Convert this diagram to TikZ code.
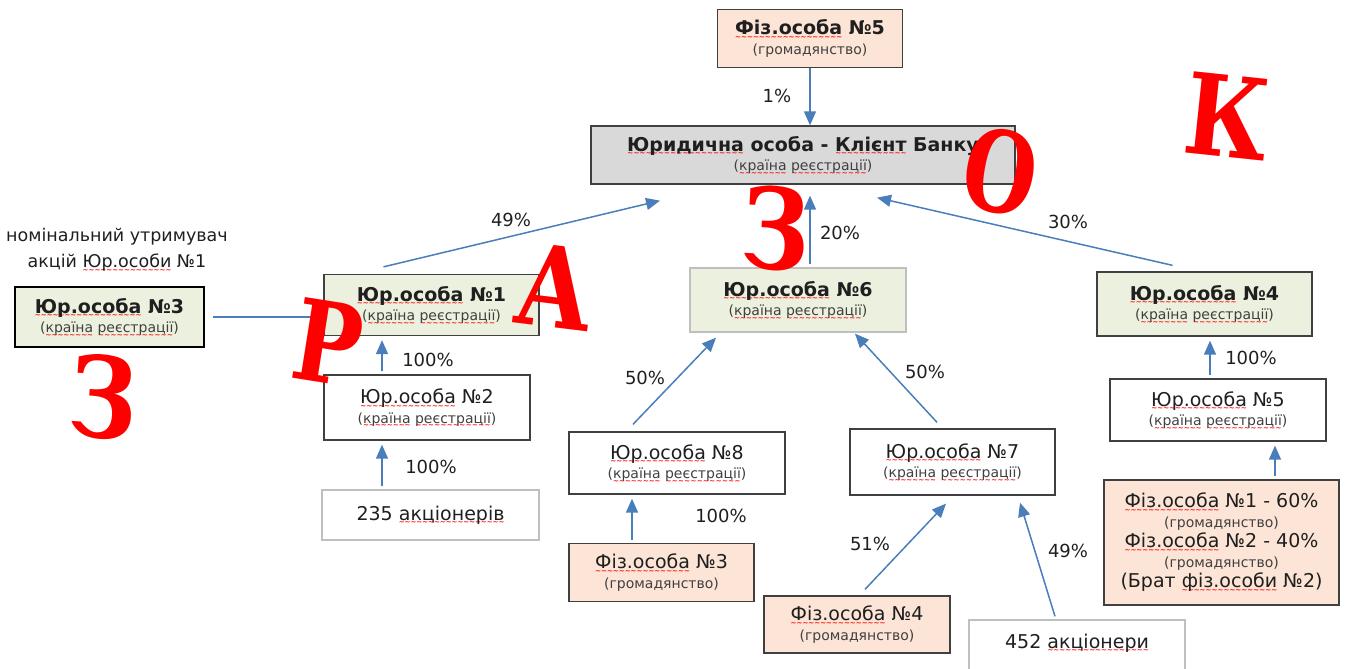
\documentclass[tikz,border=0pt]{standalone}
\usepackage{graphicx}
\usepackage{fontspec}
\setmainfont{DejaVu Sans}
\newfontfamily\stampfont{DejaVu Serif}
\newfontfamily\wavefont{DejaVu Sans}
\usetikzlibrary{arrows.meta}
\definecolor{arrowblue}{RGB}{74,126,187}
\definecolor{peach}{RGB}{252,228,214}
\definecolor{palegreen}{RGB}{235,241,222}
\definecolor{boxgray}{RGB}{217,217,217}
\definecolor{edgedark}{RGB}{64,64,64}
\definecolor{edgelight}{RGB}{191,191,191}
\definecolor{subgray}{RGB}{64,64,64}
\definecolor{stampred}{RGB}{255,0,0}
\newcommand{\mainsize}{\fontsize{19}{19.5}\selectfont}
\newcommand{\subsize}{\fontsize{14}{16}\selectfont}
\newsavebox{\spellbox}
\newcommand{\spell}[1]{\sbox{\spellbox}{#1}\rlap{\raisebox{-4.5pt}[0pt][0pt]{\hbox to \wd\spellbox{%
  \color{red}\wavefont\bfseries\fontsize{7}{7}\selectfont\xleaders\hbox{\char"7E}\hfill}}}\usebox{\spellbox}}
\newcommand{\reg}{{\subsize\color{subgray}(\spell{країна} \spell{реєстрації})}}
\newcommand{\citz}{{\subsize\color{subgray}(громадянство)}}
\newcommand{\narrow}[2][0.85]{\scalebox{#1}[1]{#2}}

\begin{document}
\begin{tikzpicture}[x=1pt,y=-1pt,
    box/.style={rectangle,draw=edgedark,line width=1.3pt,align=center,inner sep=0pt,
      font=\mainsize,text=black!88},
    greenbox/.style={box,fill=palegreen,minimum width=215pt,minimum height=61pt},
    whitebox/.style={box,fill=white,minimum width=212pt,minimum height=63pt},
    peachbox/.style={box,fill=peach,minimum width=185pt,minimum height=58pt},
    crowd/.style={box,draw=edgelight,minimum width=217pt},
    arr/.style={draw=arrowblue,line width=1.5pt,-{Triangle[length=14pt,width=12pt]}},
    gap/.style={shorten >=4pt,shorten <=3pt},
    link/.style={draw=arrowblue,line width=1.4pt},
    pct/.style={font=\fontsize{18}{20}\selectfont,text=black!88,inner sep=0pt},
    stamp/.style={font=\stampfont\bfseries\fontsize{112}{112}\selectfont,
      text=stampred,inner sep=0pt}]
  \useasboundingbox (0,0) rectangle (1347,669);

  % top of the structure
  \node[peachbox] (fiz5) at (810,38.5) {\textbf{\spell{Фіз.особа} №5}\\\citz};
  \node[box,fill=boxgray,minimum width=424pt,minimum height=58pt] (client) at (803,155)
    {\textbf{\spell{Юридична} особа - \spell{Клієнт} Банку}\\\reg};

  % first level
  \node[greenbox,draw=black,line width=2.2pt,minimum width=189pt,minimum height=60pt] (yur3) at (109.5,317)
    {\textbf{\spell{Юр.особа} №3}\\\reg};
  \node[greenbox] (yur1) at (431.5,305) {\textbf{\spell{Юр.особа} №1}\\\reg};
  \node[greenbox,draw=edgelight,minimum width=216pt,minimum height=64pt] (yur6) at (798,300)
    {\textbf{\spell{Юр.особа} №6}\\\reg};
  \node[greenbox,minimum height=64pt] (yur4) at (1204.5,304) {\textbf{\spell{Юр.особа} №4}\\\reg};
  \node[pct,align=center,font=\fontsize{17.5}{26}\selectfont] (note) at (117,250)
    {номінальний утримувач\\акцій \spell{Юр.особи} №1};

  % second level
  \node[whitebox,minimum width=206pt,minimum height=65pt] (yur2) at (427,407.5) {\spell{Юр.особа} №2\\\reg};
  \node[whitebox,minimum width=216pt,minimum height=62pt] (yur8) at (677,463) {\spell{Юр.особа} №8\\\reg};
  \node[whitebox,minimum width=205pt,minimum height=66pt] (yur7) at (952.5,462) {\spell{Юр.особа} №7\\\reg};
  \node[whitebox,minimum width=216pt,minimum height=62pt] (yur5) at (1218,410) {\spell{Юр.особа} №5\\\reg};

  % owners at the bottom
  \node[crowd,minimum height=50pt] (s235) at (430.5,515) {235 \spell{акціонерів}};
  \node[peachbox] (fiz3) at (661.5,572.5) {\spell{Фіз.особа} №3\\\citz};
  \node[peachbox,minimum width=186pt,minimum height=57pt] (fiz4) at (857,624.5) {\spell{Фіз.особа} №4\\\citz};
  \node[crowd,minimum width=216pt,anchor=base,text height=14pt,text depth=22pt,inner ysep=14pt] (s452)
    at (1077,648) {452 \spell{акціонери}};
  \node[box,fill=peach,minimum width=235pt,minimum height=125pt,font=\fontsize{19}{20}\selectfont] (fiz12)
    at (1221.5,542.5)
    {\spell{Фіз.особа} №1 - 60\%\\\citz\\\spell{Фіз.особа} №2 - 40\%\\\citz\\(Брат \spell{фіз.особи} №2)};

  % shares
  \draw[arr] (fiz5.south) -- (fiz5.south |- client.north);
  \draw[arr] ([shift={(-48,-7)}]yur1.north) -- ([shift={(-143,16)}]client.south);
  \draw[arr] ([shift={(12,-3)}]yur6.north) -- ([shift={(7,11)}]client.south);
  \draw[arr] ([shift={(-32,-6)}]yur4.north) -- ([shift={(74,13)}]client.south);
  \draw[link] ([xshift=8pt]yur3.east) -- (yur3.east -| yur1.west);
  \draw[arr,gap] ([xshift=-45pt]yur2.north) -- ([xshift=-45pt]yur2.north |- yur1.south);
  \draw[arr,gap] ([xshift=-45pt]yur2.south |- s235.north) -- ([xshift=-45pt]yur2.south);
  \draw[arr] ([shift={(-44,-7)}]yur8.north) -- ([shift={(-82,5)}]yur6.south);
  \draw[arr] ([shift={(-15.5,-6)}]yur7.north) -- ([shift={(57,1)}]yur6.south);
  \draw[arr,gap] ([xshift=-45pt]yur8.south |- fiz3.north) -- ([xshift=-45pt]yur8.south);
  \draw[arr] ([shift={(8,-6)}]fiz4.north) -- ([shift={(-6.5,8)}]yur7.south);
  \draw[arr] ([shift={(-22,-3)}]s452.north) -- ([shift={(67.5,7)}]yur7.south);
  \draw[arr,gap] ([xshift=57pt]yur5.south |- fiz12.north) -- ([xshift=57pt]yur5.south);
  \draw[arr,gap] ([xshift=-8pt]yur5.north) -- ([xshift=-8pt]yur5.north |- yur4.south);

  \node[pct] (p1) at (777,96) {1\%};
  \node[pct] (p49) at (511,220) {49\%};
  \node[pct] (p20) at (840,233) {20\%};
  \node[pct] (p30) at (1068,222) {30\%};
  \node[pct] (p100a) at (428,360) {100\%};
  \node[pct] (p100b) at (431,467) {100\%};
  \node[pct] (p50a) at (645,378) {50\%};
  \node[pct] (p50b) at (925,372) {50\%};
  \node[pct] (p100c) at (721,516) {100\%};
  \node[pct] (p51) at (870,544) {51\%};
  \node[pct] (p49b) at (1068,551) {49\%};
  \node[pct] (p100d) at (1251,358) {100\%};

  % sample stamp
  \node[stamp,rotate=-4] (stZe1) at (104,397) {\narrow{З}};
  \node[stamp,rotate=-9] (stEr) at (328,342) {\narrow[0.8]{Р}};
  \node[stamp,rotate=-7] (stA) at (555,287) {\narrow{А}};
  \node[stamp,rotate=-3] (stZe2) at (776,229) {\narrow{З}};
  \node[stamp,rotate=-10] (stO) at (1001,172) {\narrow[0.75]{О}};
  \node[stamp,rotate=-6] (stKa) at (1227,116) {\narrow[0.82]{К}};
\end{tikzpicture}
\end{document}
